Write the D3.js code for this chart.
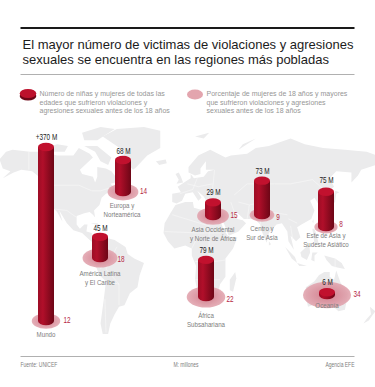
<!DOCTYPE html>
<html>
<head>
<meta charset="utf-8">
<script src="https://cdn.jsdelivr.net/npm/d3@7"></script>
<style>
  html, body { margin: 0; padding: 0; background: #fff; }
  svg { display: block; font-family: "Liberation Sans", Arial, sans-serif; }
</style>
</head>
<body>
<div id="chart"></div>
<script>
// Chart values
const regions = ["Mundo", "Europa y Norteamérica", "América Latina y El Caribe", "Asia Occidental y Norte de África", "África Subsahariana", "Centro y Sur de Asia", "Este de Asia y Sudeste Asiático", "Oceanía"]
const millions = [370, 68, 45, 29, 79, 73, 75, 6]
const millionLabels = ["+370 M", "68 M", "45 M", "29 M", "79 M", "73 M", "75 M", "6 M"]
const percents = [12, 14, 18, 15, 22, 9, 8, 34]

const titleLines = ["El mayor número de victimas de violaciones y agresiones", "sexuales se encuentra en las regiones más pobladas"]
const legendBars = ["Número de niñas y mujeres de todas las", "edades que sufrieron violaciones y", "agresiones sexuales antes de los 18 años"]
const legendDiscs = ["Porcentaje de mujeres de 18 años y mayores", "que sufrieron violaciones y agresiones", "sexuales antes de los 18 años"]
const regionLines = [["Mundo"], ["Europa y", "Norteamérica"], ["América Latina", "y El Caribe"], ["Asia Occidental", "y Norte de África"], ["África", "Subsahariana"], ["Centro y", "Sur de Asia"], ["Este de Asia y", "Sudeste Asiático"], ["Oceanía"]]

// Background map, rough coastlines as [lon, lat]
const landNorthAmerica = [[-168,66],[-162,70],[-156,71],[-140,70],[-128,70],[-115,68],[-100,68],[-95,72],[-85,69],[-82,67],[-94,60],[-92,57],[-82,55],[-80,51],[-78,55],[-78,62],[-70,61],[-65,59],[-60,54],[-56,52],[-66,50],[-60,46],[-66,44],[-70,43],[-74,40],[-76,35],[-81,31],[-80,26],[-82,28],[-85,30],[-90,29],[-97,27],[-97,21],[-94,18],[-90,21],[-87,21],[-88,16],[-83,15],[-83,10],[-78,9],[-80,7],[-85,10],[-92,15],[-100,17],[-106,22],[-110,27],[-113,31],[-110,23],[-115,30],[-120,34],[-124,40],[-124,48],[-130,54],[-138,59],[-148,60],[-155,58],[-165,54],[-158,59],[-165,61]]
const landGreenland = [[-73,78],[-60,82],[-35,83],[-20,81],[-20,72],[-32,68],[-42,62],[-45,60],[-52,65],[-55,71]]
const landArctic = [[-125,72],[-115,74],[-105,73],[-108,70],[-118,70]]
const landBaffin = [[-90,73],[-78,73],[-65,67],[-68,63],[-75,65],[-80,70]]
const landEllesmere = [[-92,80],[-75,83],[-62,82],[-78,76],[-90,76]]
const landSouthAmerica = [[-78,9],[-72,12],[-62,10],[-52,5],[-50,0],[-44,-3],[-35,-6],[-39,-14],[-41,-22],[-48,-26],[-53,-34],[-58,-35],[-62,-40],[-66,-46],[-68,-53],[-73,-53],[-75,-46],[-72,-30],[-70,-18],[-76,-14],[-81,-5],[-80,1],[-77,5]]
const landAfrica = [[-6,35],[3,37],[10,37],[11,33],[20,31],[32,31],[35,24],[38,18],[43,12],[51,12],[47,4],[40,-3],[40,-15],[35,-20],[33,-27],[26,-34],[19,-35],[15,-27],[12,-17],[13,-8],[9,-1],[9,4],[3,6],[-7,4],[-13,9],[-17,15],[-16,22],[-10,30]]
const landEurasia = [[-9,37],[-9,43],[-1,44],[-4,48],[4,52],[8,54],[8,57],[11,54],[20,55],[24,59],[30,60],[22,60],[22,65],[17,61],[17,57],[12,56],[6,58],[6,62],[15,68],[26,71],[40,67],[45,68],[60,69],[68,72],[80,73],[100,77],[113,74],[130,72],[150,71],[170,70],[180,68],[178,63],[165,60],[162,56],[156,51],[156,58],[142,59],[136,54],[140,48],[132,43],[128,38],[126,35],[122,40],[118,38],[122,31],[119,25],[110,21],[106,19],[109,12],[105,9],[100,13],[103,3],[98,9],[97,16],[92,22],[87,21],[80,15],[78,8],[73,17],[72,21],[67,25],[57,25],[50,30],[48,29],[51,25],[56,24],[59,22],[52,16],[43,13],[39,21],[35,28],[35,36],[28,37],[26,40],[23,37],[20,41],[14,45],[18,40],[15,38],[10,44],[3,43],[0,38],[-5,36]]
const landBritain = [[-5,50],[1,51],[-1,55],[-3,58],[-6,57],[-3,53]]
const landIceland = [[-24,65],[-15,66],[-14,64],[-21,63]]
const landJapan = [[131,32],[136,34],[141,37],[142,43],[145,44],[141,45],[139,38],[133,36]]
const landMadagascar = [[49,-12],[50,-16],[47,-25],[44,-24],[44,-17]]
const landAustralia = [[114,-22],[122,-18],[126,-14],[131,-12],[136,-12],[136,-15],[140,-17],[142,-11],[146,-19],[153,-26],[150,-37],[144,-38],[138,-34],[131,-32],[124,-33],[116,-35],[114,-28]]
const landNewZealand = [[173,-35],[178,-38],[175,-41],[172,-44],[167,-46],[170,-43],[174,-40]]
const landSumatra = [[95,5],[104,-2],[106,-6],[101,-3]]
const landBorneo = [[109,1],[117,7],[118,1],[115,-4],[110,-2]]
const landJava = [[106,-6],[115,-8],[108,-8]]
const landSulawesi = [[120,1],[125,1],[122,-1],[122,-5],[119,-4]]
const landNewGuinea = [[131,-1],[141,-3],[147,-6],[150,-10],[143,-9],[138,-8],[133,-4]]
const landPhilippines = [[120,18],[122,18],[124,13],[126,7],[122,7],[121,13]]
const landSriLanka = [[80,9],[82,7],[80,6]]
const landCuba = [[-84,22],[-75,20],[-78,22]]
const landTaiwan = [[121,25],[121,22],[120,23]]
const landSvalbard = [[12,78],[25,80],[20,77]]
const landNovayaZemlya = [[52,71],[68,77],[56,74]]

const landShapes = [landNorthAmerica, landGreenland, landArctic, landBaffin, landEllesmere, landSouthAmerica, landAfrica, landEurasia, landBritain, landIceland, landJapan, landMadagascar, landAustralia, landNewZealand, landSumatra, landBorneo, landJava, landSulawesi, landNewGuinea, landPhilippines, landSriLanka, landCuba, landTaiwan, landSvalbard, landNovayaZemlya]

// A few country borders, drawn as white lines over the land
const borders = [
  [[-141,70],[-141,60]], [[-124,49],[-95,49],[-83,45],[-75,45],[-67,47]], [[-117,32],[-106,31],[-97,26]],
  [[-70,-18],[-58,-20],[-58,-34]], [[-72,12],[-70,0],[-75,-10]], [[-60,5],[-70,-10],[-58,-20]], [[-71,-30],[-70,-52]],
  [[-9,28],[12,23],[25,20],[25,31]], [[-16,16],[15,15],[36,15]], [[9,4],[15,13]], [[12,-5],[30,-5],[40,-4]], [[12,-17],[35,-17]], [[25,20],[25,-17]],
  [[30,60],[28,45]], [[5,50],[15,48],[28,50]], [[-2,43],[10,46],[14,54]],
  [[48,42],[60,50],[85,50],[100,50],[120,53],[132,45]], [[52,37],[62,35],[75,37],[80,30],[97,28]], [[45,37],[48,30]], [[60,25],[62,35]], [[72,21],[75,35]], [[100,20],[102,10]], [[106,22],[98,25]],
  [[141,-3],[141,-9]]
]

// Layout of each region on the map
const barX = [46, 123, 100, 213, 206, 262, 326, 327]
const barBase = [321, 192, 258, 216, 297, 215, 227, 295]
const numberX = [67, 143.5, 121, 234, 230, 278, 341, 357]
const numberY = [323, 194, 262, 218, 302, 220, 227, 297]
const millionY = [139.5, 153.5, 231, 195, 253, 174, 183, 285]
const nameY = [337, 207.5, 276, 232, 318, 231, 238, 308]
const nameX = [46, 122, 100, 213, 206, 262, 326, 327]

const WIDTH = 375
const HEIGHT = 387
const RED_TEXT = "#b5283f"
const GREY_TEXT = "#7d7d7d"

// Map scales, fitted to where the continents sit in the picture
const lonScale = d3.scaleLinear().domain([-180, 180]).range([-13.5, 377.5])
const latScale = d3.scaleLinear().domain([83, 62, 0, -55]).range([127, 167, 254, 337])

// Cylinder height is linear in millions, disc radius goes with the square root of the percent
const heightScale = d3.scaleLinear().domain([0, 370]).range([0, 174])
const discScale = d3.scaleSqrt().domain([0, 34]).range([0, 24])

const svg = d3.select("#chart").append("svg")
    .attr("width", WIDTH)
    .attr("height", HEIGHT)

const defs = svg.append("defs")
const bodyGradient = defs.append("linearGradient").attr("id", "body")
bodyGradient.append("stop").attr("offset", "0%").attr("stop-color", "#9c0d25")
bodyGradient.append("stop").attr("offset", "30%").attr("stop-color", "#b10f2a")
bodyGradient.append("stop").attr("offset", "100%").attr("stop-color", "#6d0616")
const discGradient = defs.append("radialGradient").attr("id", "disc")
discGradient.append("stop").attr("offset", "0%").attr("stop-color", "#cf7585")
discGradient.append("stop").attr("offset", "100%").attr("stop-color", "#e2a6b0")

// The small labels are set in a condensed face in the original, so squeeze them
function condense(selection) {
    selection
        .attr("textLength", function() { return this.getComputedTextLength() * 0.78 })
        .attr("lengthAdjust", "spacingAndGlyphs")
}

// Rules
function rule(y, color, weight) {
    svg.append("line")
        .attr("x1", 20.5).attr("x2", 354.5)
        .attr("y1", y).attr("y2", y)
        .attr("stroke", color)
        .attr("stroke-width", weight)
}
rule(28, "#1a1a1a", 2)
rule(74.5, "#b0b0b0", 1)
rule(356.5, "#b0b0b0", 1)

// Title
svg.selectAll("text.title").data(titleLines).enter().append("text")
    .attr("class", "title")
    .attr("x", 22.5)
    .attr("y", (d, i) => 49 + i * 15)
    .attr("font-size", 13)
    .attr("fill", "#1c1c1c")
    .text(d => d)

// Map
const coast = d3.line().x(d => lonScale(d[0])).y(d => latScale(d[1])).curve(d3.curveLinearClosed)
const borderLine = d3.line().x(d => lonScale(d[0])).y(d => latScale(d[1]))

svg.append("g").selectAll("path").data(landShapes).enter().append("path")
    .attr("d", coast)
    .attr("fill", "#ebebec")

svg.append("g").selectAll("path").data(borders).enter().append("path")
    .attr("d", borderLine)
    .attr("fill", "none")
    .attr("stroke", "#f8f8f8")
    .attr("stroke-width", 0.6)

// Legend
function legendText(lines, x) {
    svg.append("g").selectAll("text").data(lines).enter().append("text")
        .attr("x", x)
        .attr("y", (d, i) => 96 + i * 8.5)
        .attr("font-size", 7)
        .attr("fill", "#969696")
        .text(d => d)
}
legendText(legendBars, 39.5)
legendText(legendDiscs, 206.5)

svg.append("ellipse").attr("cx", 28).attr("cy", 96).attr("rx", 8.3).attr("ry", 4.5).attr("fill", "#6d0616")
svg.append("ellipse").attr("cx", 28).attr("cy", 93.5).attr("rx", 8.3).attr("ry", 4.5).attr("fill", "#bd112c")
svg.append("ellipse").attr("cx", 195).attr("cy", 94.5).attr("rx", 8).attr("ry", 5).attr("fill", "#e3a5ae")

// Discs and cylinders
const RX = 8
const RY = 4.2

const marks = svg.append("g").selectAll("g").data(regions).enter().append("g")

marks.append("ellipse")
    .attr("cx", (d, i) => barX[i])
    .attr("cy", (d, i) => barBase[i])
    .attr("rx", (d, i) => discScale(percents[i]))
    .attr("ry", (d, i) => discScale(percents[i]) * 0.55)
    .attr("fill", "url(#disc)")
    .attr("fill-opacity", 0.9)

// Body: straight sides with a rounded bottom
marks.append("path")
    .attr("d", (d, i) => {
        const x = barX[i]
        const base = barBase[i]
        const top = base - heightScale(millions[i])
        return `M${x - RX},${top}L${x - RX},${base}A${RX},${RY} 0 0 0 ${x + RX},${base}L${x + RX},${top}Z`
    })
    .attr("fill", "url(#body)")

marks.append("ellipse")
    .attr("cx", (d, i) => barX[i])
    .attr("cy", (d, i) => barBase[i] - heightScale(millions[i]))
    .attr("rx", RX)
    .attr("ry", RY)
    .attr("fill", "#c1112e")

// Labels
marks.append("text")
    .attr("x", (d, i) => barX[i] + 0.5)
    .attr("y", (d, i) => millionY[i])
    .attr("text-anchor", "middle")
    .attr("font-size", 8.2)
    .attr("fill", "#222")
    .text((d, i) => millionLabels[i])
    .call(condense)

marks.append("text")
    .attr("x", (d, i) => numberX[i])
    .attr("y", (d, i) => numberY[i])
    .attr("text-anchor", "middle")
    .attr("font-size", 8.2)
    .attr("fill", RED_TEXT)
    .text((d, i) => percents[i])
    .call(condense)

marks.each(function(d, i) {
    d3.select(this).selectAll("text.name").data(regionLines[i]).enter().append("text")
        .attr("class", "name")
        .attr("x", nameX[i])
        .attr("y", (line, j) => nameY[i] + j * 9.3)
        .attr("text-anchor", "middle")
        .attr("font-size", 7.9)
        .attr("fill", GREY_TEXT)
        .text(line => line)
        .call(condense)
})

// Footer
const footer = [["Fuente: UNICEF", 20.5, "start"], ["M: millones", 186, "middle"], ["Agencia EFE", 354.5, "end"]]
svg.append("g").selectAll("text").data(footer).enter().append("text")
    .attr("x", d => d[1])
    .attr("y", 366.5)
    .attr("text-anchor", d => d[2])
    .attr("font-size", 6.4)
    .attr("fill", "#808080")
    .text(d => d[0])
    .call(condense)
</script>
</body>
</html>
